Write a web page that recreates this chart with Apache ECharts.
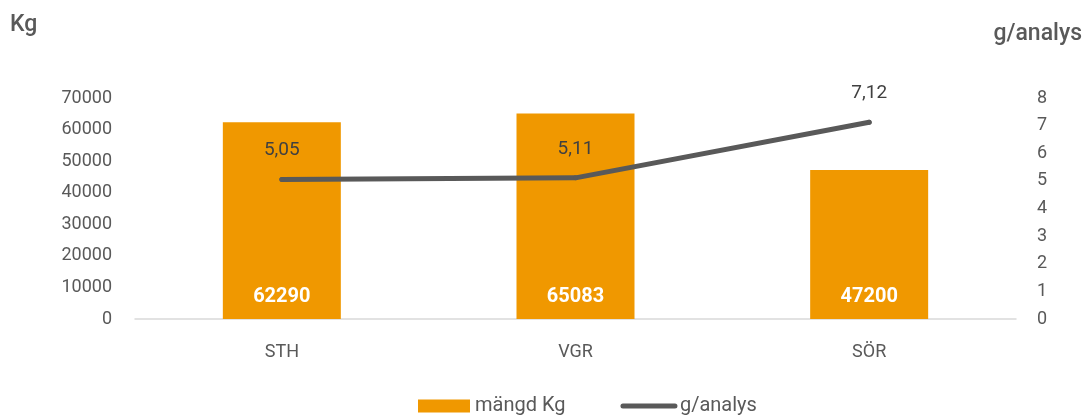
<!DOCTYPE html>
<html><head><meta charset="utf-8">
<script src="https://cdn.jsdelivr.net/npm/echarts@6/dist/echarts.min.js"></script>
<style>html,body{margin:0;padding:0;background:#fff}#c{width:1085px;height:415px}</style>
</head><body><div id="c"></div>
<script>
const categories = ['STH', 'VGR', 'SÖR'];
const kgValues = [62290, 65083, 47200];
const gPerAnalys = [5.05, 5.11, 7.12];
const leftTicks = [0, 70000, 10000];
const rightTicks = [0, 8, 1];
const seriesNames = ['mängd Kg', 'g/analys'];

const FONT = 'Roboto';
const chart = echarts.init(document.getElementById('c'), null, {renderer: 'canvas'});
chart.setOption({
  animation: false,
  textStyle: {fontFamily: FONT},
  grid: {left: 135, right: 69, top: 98, bottom: 96},
  legend: {
    top: 391, left: 413,
    itemGap: 55,
    textStyle: {fontFamily: FONT, fontSize: 20, color: '#595959'},
    data: [
      {name: seriesNames[0], icon: 'rect', itemStyle: {color: '#F09800'}},
      {name: seriesNames[1], itemStyle: {opacity: 0}, lineStyle: {width: 5, color: '#595959', cap: 'round'}}
    ],
    itemWidth: 52, itemHeight: 13
  },
  graphic: [
    {type: 'text', left: 10, top: 14, style: {text: 'Kg', font: '500 23px ' + FONT, fill: '#595959'}},
    {type: 'text', right: 3, top: 23, style: {text: 'g/analys', font: '500 23px ' + FONT, fill: '#595959'}}
  ],
  xAxis: {
    type: 'category', data: categories,
    axisLine: {lineStyle: {color: '#d9d9d9', width: 1.5}},
    axisTick: {show: false},
    axisLabel: {color: '#595959', fontSize: 18, margin: 24}
  },
  yAxis: [
    {type: 'value', min: leftTicks[0], max: leftTicks[1], interval: leftTicks[2],
     splitLine: {show: false}, axisLine: {show: false}, axisTick: {show: false},
     axisLabel: {color: '#595959', fontSize: 18, margin: 23, formatter: v => String(v)}},
    {type: 'value', min: rightTicks[0], max: rightTicks[1], interval: rightTicks[2],
     splitLine: {show: false}, axisLine: {show: false}, axisTick: {show: false},
     axisLabel: {color: '#595959', fontSize: 18, margin: 21}}
  ],
  series: [
    {name: seriesNames[0], type: 'bar', data: kgValues, barWidth: 118,
     itemStyle: {color: '#F09800'},
     label: {show: true, position: 'insideBottom', distance: 12, color: '#fff',
             fontWeight: 'bold', fontSize: 20, fontFamily: FONT}},
    {name: seriesNames[1], type: 'line', yAxisIndex: 1, data: gPerAnalys,
     symbol: 'circle', symbolSize: 5, showSymbol: true,
     lineStyle: {color: '#595959', width: 5, cap: 'round'},
     itemStyle: {color: '#595959'},
     label: {show: true, position: 'top', distance: 17, color: '#404040', fontSize: 19,
             fontFamily: FONT,
             formatter: p => p.value.toFixed(2).replace('.', ',')}}
  ]
});
</script></body></html>
